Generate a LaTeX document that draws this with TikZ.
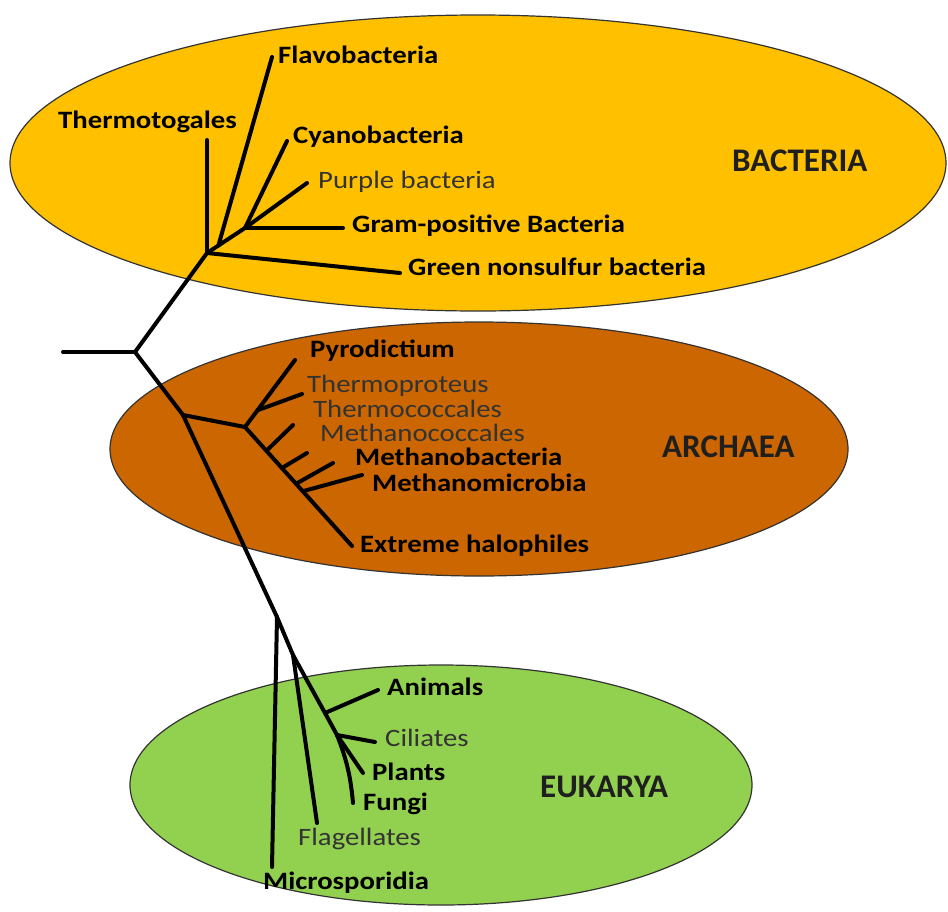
\documentclass[tikz,border=0pt]{standalone}
\usepackage{fontspec}
\setmainfont{Carlito}[FakeStretch=1.15]
\newfontfamily\domainfont{Carlito}
\usetikzlibrary{calc}
\definecolor{bactfill}{HTML}{FFC000}
\definecolor{archfill}{HTML}{CC6600}
\definecolor{eukfill}{HTML}{92D050}
\definecolor{edgegray}{HTML}{333333}
\tikzset{
  domainell/.style={draw=edgegray, line width=1.2pt},
  branch/.style={line width=4pt, line cap=round, line join=round, black},
  boldlab/.style={anchor=base west, inner sep=0pt, font=\fontsize{25}{30}\selectfont\bfseries, text=black},
  reglab/.style={anchor=base west, inner sep=0pt, font=\fontsize{25}{30}\selectfont, text=black!80},
  domlab/.style={anchor=base west, inner sep=0pt, font=\domainfont\fontsize{33}{40}\selectfont\bfseries, text=black!88},
}
\begin{document}
\begin{tikzpicture}[x=1pt,y=-1pt]
\useasboundingbox (0,0) rectangle (948,911);
% domain ellipses
\fill[white] (0,0) rectangle (948,911);
\draw[domainell, fill=bactfill] (478,163) ellipse [x radius=468, y radius=148];
\draw[domainell, fill=archfill] (479,449) ellipse [x radius=369, y radius=127];
\draw[domainell, fill=eukfill] (441,785) ellipse [x radius=311, y radius=120];

% tree coordinates
\coordinate (root0) at (63,352);
\coordinate (r) at (135,352);
\coordinate (bj) at (207,253);
\coordinate (b2) at (245,228);
\coordinate (thermotogalesE) at (207,140);
\coordinate (greenE) at (400,273);
\coordinate (flavoE) at (272,57);
\coordinate (cyanoE) at (287,141);
\coordinate (purpleE) at (307,183);
\coordinate (gramE) at (343,228);

\coordinate (a1) at (183,415);
\coordinate (a2) at (245,427);
\coordinate (pyroE) at (295,360);
\coordinate (tprotE) at (302,394);
\coordinate (haloE) at (352,546);
\coordinate (tcocE) at (293,425);
\coordinate (mcocE) at (307,453);
\coordinate (mbacE) at (333,463);
\coordinate (mmicE) at (362,475);

\coordinate (e1) at (277,617);
\coordinate (e2) at (293,655);
\coordinate (e3) at (325,713);
\coordinate (e4) at (337,735);
\coordinate (microE) at (272,867);
\coordinate (flagE) at (317,823);
\coordinate (animE) at (378,690);
\coordinate (cilE) at (375,742);
\coordinate (plantE) at (363,773);
\coordinate (fungE) at (353,803);

% root
\draw[branch] (root0) -- (r);
\draw[branch] (r) -- (bj);
\draw[branch] (r) -- (a1) -- (e1);

% bacteria
\draw[branch] (bj) -- (thermotogalesE);
\draw[branch] (bj) -- (greenE);
\draw[branch] (bj) -- (b2);
\draw[branch] ($(bj)!0.3!(b2)$) -- (flavoE);
\draw[branch] (b2) -- (cyanoE);
\draw[branch] (b2) -- (purpleE);
\draw[branch] (b2) -- (gramE);

% archaea
\draw[branch] (a1) -- (a2);
\draw[branch] (a2) -- (pyroE);
\draw[branch] ($(a2)!0.25!(pyroE)$) -- (tprotE);
\draw[branch] (a2) -- (haloE);
\draw[branch] ($(a2)!0.2!(haloE)$) -- (tcocE);
\draw[branch] ($(a2)!0.345!(haloE)$) -- (mcocE);
\draw[branch] ($(a2)!0.477!(haloE)$) -- (mbacE);
\draw[branch] ($(a2)!0.54!(haloE)$) -- (mmicE);

% eukarya
\draw[branch] (e1) -- (microE);
\draw[branch] (e1) -- (e2);
\draw[branch] (e2) -- (flagE);
\draw[branch] (e2) -- (e3);
\draw[branch] (e3) -- (animE);
\draw[branch] (e3) -- (e4);
\draw[branch] (e4) -- (cilE);
\draw[branch] (e4) -- (plantE);
\draw[branch] (e4) to[bend left=8] (fungE);

% bacteria labels
\node[boldlab] (flavo) at (278,63) {Flavobacteria};
\node[boldlab] (thermotogales) at (58,128) {Thermotogales};
\node[boldlab] (cyano) at (293,143) {Cyanobacteria};
\node[reglab] (purple) at (318,188) {Purple bacteria};
\node[boldlab] (gram) at (352,232) {Gram-positive Bacteria};
\node[boldlab] (green) at (408,275) {Green nonsulfur bacteria};
\node[domlab] (bacteria) at (732,171) {BACTERIA};

% archaea labels
\node[boldlab] (pyro) at (310,357) {Pyrodictium};
\node[reglab] (tprot) at (307,392) {Thermoproteus};
\node[reglab] (tcoc) at (313,417) {Thermococcales};
\node[reglab] (mcoc) at (320,441) {Methanococcales};
\node[boldlab] (mbac) at (355,465) {Methanobacteria};
\node[boldlab] (mmic) at (372,491) {Methanomicrobia};
\node[boldlab] (halo) at (360,552) {Extreme halophiles};
\node[domlab] (archaea) at (662,457) {ARCHAEA};

% eukarya labels
\node[boldlab] (anim) at (387,695) {Animals};
\node[reglab] (cil) at (385,746) {Ciliates};
\node[boldlab] (plant) at (372,780) {Plants};
\node[boldlab] (fung) at (363,810) {Fungi};
\node[reglab] (flag) at (298,845) {Flagellates};
\node[boldlab] (micro) at (263,889) {Microsporidia};
\node[domlab] (eukarya) at (540,797) {EUKARYA};
\end{tikzpicture}
\end{document}
